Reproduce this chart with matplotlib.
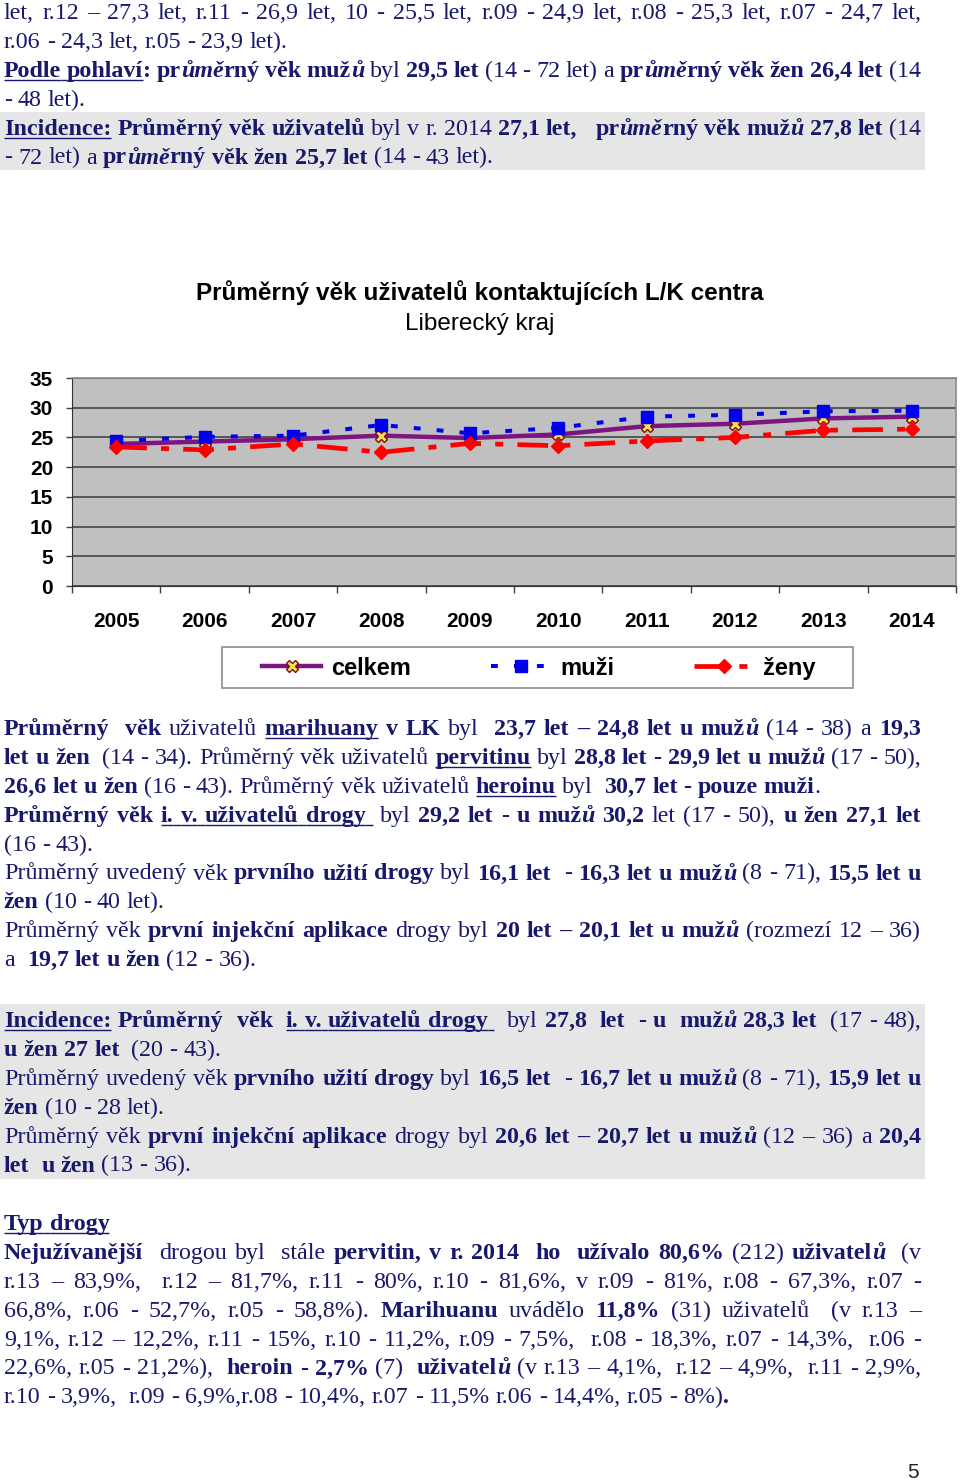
import re
import matplotlib
matplotlib.use("Agg")
import matplotlib.pyplot as plt
from matplotlib.patches import Rectangle
from matplotlib.font_manager import FontProperties

# data
years = ["2005", "2006", "2007", "2008", "2009", "2010", "2011", "2012", "2013", "2014"]
celkem = [23.9, 24.3, 24.7, 25.3, 24.9, 25.5, 26.9, 27.3, 28.2, 28.5]
muzi = [24.4, 25.1, 25.3, 27.1, 25.7, 26.6, 28.5, 28.8, 29.4, 29.5]
zeny = [23.4, 22.9, 23.9, 22.5, 24.0, 23.6, 24.4, 25.0, 26.2, 26.4]
nazvy = ["celkem", "muži", "ženy"]
y_ticks = [0, 5, 10, 15, 20, 25, 30, 35]

nadpis = "Průměrný věk uživatelů kontaktujících L/K centra"
podnadpis = "Liberecký kraj"

# page text: [b] bold, [i] italic, [u] underline; second item = justified line
blok1 = [
    ("let, r.12 – 27,3 let, r.11 - 26,9 let, 10 - 25,5 let, r.09 - 24,9 let, r.08 - 25,3 let, r.07 - 24,7 let,", True),
    ("r.06 - 24,3 let, r.05 - 23,9 let).", False),
    ("[b][u]Podle pohlaví[/u]: pr[i]ůmě[/i]rný věk muž[i]ů[/i][/b] byl [b]29,5 let[/b] (14 - 72 let) a [b]pr[i]ůmě[/i]rný věk žen 26,4 let[/b] (14", True),
    ("- 48 let).", False),
    ("[b][u]Incidence:[/u] Průměrný věk uživatelů[/b] byl v r. 2014 [b]27,1 let,[/b]   [b]pr[i]ůmě[/i]rný věk muž[i]ů[/i] 27,8 let[/b] (14", True),
    ("- 72 let) a [b]pr[i]ůmě[/i]rný věk žen 25,7 let[/b] (14 - 43 let).", False),
]
blok2 = [
    ("[b]Průměrný  věk[/b] uživatelů [b][u]marihuany[/u] v LK[/b] byl  [b]23,7 let – 24,8 let u muž[i]ů[/i][/b] (14 - 38) a [b]19,3[/b]", True),
    ("[b]let u žen[/b]  (14 - 34). Průměrný věk uživatelů [b][u]pervitinu[/u][/b] byl [b]28,8 let - 29,9 let u muž[i]ů[/i][/b] (17 - 50),", True),
    ("[b]26,6 let u žen[/b] (16 - 43). Průměrný věk uživatelů [b][u]heroinu[/u][/b] byl  [b]30,7 let - pouze muži[/b].", False),
    ("[b]Průměrný věk [u]i. v. uživatelů drogy [/u][/b] byl [b]29,2 let - u muž[i]ů[/i] 30,2[/b] let (17 - 50), [b]u žen 27,1 let[/b]", True),
    ("(16 - 43).", False),
    ("Průměrný uvedený věk [b]prvního užití drogy[/b] byl [b]16,1 let[/b]  - [b]16,3 let u muž[i]ů[/i][/b] (8 - 71), [b]15,5 let u[/b]", True),
    ("[b]žen[/b] (10 - 40 let).", False),
    ("Průměrný věk [b]první injekční aplikace[/b] drogy byl [b]20 let – 20,1 let u muž[i]ů[/i][/b] (rozmezí 12 – 36)", True),
    ("a  [b]19,7 let u žen[/b] (12 - 36).", False),
]
blok3 = [
    ("[b][u]Incidence:[/u] Průměrný  věk  [u]i. v. uživatelů drogy [/u][/b]  byl [b]27,8  let  - u  muž[i]ů[/i] 28,3 let[/b]  (17 - 48),", True),
    ("[b]u žen 27 let[/b]  (20 - 43).", False),
    ("Průměrný uvedený věk [b]prvního užití drogy[/b] byl [b]16,5 let[/b]  - [b]16,7 let u muž[i]ů[/i][/b] (8 - 71), [b]15,9 let u[/b]", True),
    ("[b]žen[/b] (10 - 28 let).", False),
    ("Průměrný věk [b]první injekční aplikace[/b] drogy byl [b]20,6 let – 20,7 let u muž[i]ů[/i][/b] (12 – 36) a [b]20,4[/b]", True),
    ("[b]let  u žen[/b] (13 - 36).", False),
]
blok4 = [
    ("[b][u]Typ drogy[/u][/b]", False),
    ("[b]Nejužívanější[/b]  drogou byl  stále [b]pervitin, v r. 2014  ho  užívalo 80,6%[/b] (212) [b]uživatel[i]ů[/i][/b]  (v", True),
    ("r.13 – 83,9%,  r.12 – 81,7%, r.11 - 80%, r.10 - 81,6%, v r.09 - 81%, r.08 - 67,3%, r.07 -", True),
    ("66,8%, r.06 - 52,7%, r.05 - 58,8%). [b]Marihuanu[/b] uvádělo [b]11,8%[/b] (31) uživatelů  (v r.13 –", True),
    ("9,1%, r.12 – 12,2%, r.11 - 15%, r.10 - 11,2%, r.09 - 7,5%,  r.08 - 18,3%, r.07 - 14,3%,  r.06 -", True),
    ("22,6%, r.05 - 21,2%),  [b]heroin - 2,7%[/b] (7)  [b]uživatel[i]ů[/i][/b] (v r.13 – 4,1%,  r.12 – 4,9%,  r.11 - 2,9%,", True),
    ("r.10 - 3,9%,  r.09 - 6,9%,r.08 - 10,4%, r.07 - 11,5% r.06 - 14,4%, r.05 - 8%)[b].[/b]", False),
]

W, H = 960, 1481
LEFT, RIGHT = 4, 921
PITCH = 28.9
TEXT_COLOR = "#18186c"
FS = 17.3

fig = plt.figure(figsize=(9.6, 14.81), dpi=100)
page = fig.add_axes([0, 0, 1, 1])
page.set_xlim(0, W)
page.set_ylim(H, 0)
page.axis("off")
renderer = fig.canvas.get_renderer()

# grey shading behind incidence paragraphs
page.add_patch(Rectangle((0, 112), 925, 58, facecolor="#e6e6e6", edgecolor="none", zorder=0))
page.add_patch(Rectangle((0, 1004), 925, 175, facecolor="#e6e6e6", edgecolor="none", zorder=0))

fonts = {}
def font(b, i):
    if (b, i) not in fonts:
        fonts[(b, i)] = FontProperties(family="Liberation Serif", size=FS,
                                       weight="bold" if b else "normal",
                                       style="italic" if i else "normal")
    return fonts[(b, i)]

def advance(s, b, i):
    fp = font(b, i)
    w1 = renderer.get_text_width_height_descent("|" + s + "|", fp, ismath=False)[0]
    w0 = renderer.get_text_width_height_descent("||", fp, ismath=False)[0]
    return w1 - w0

def parse(line):
    st = {"b": False, "i": False, "u": False}
    out = []
    for tok in re.split(r"(\[/?[biu]\])", line):
        m = re.fullmatch(r"\[(/?)([biu])\]", tok)
        if m:
            st[m.group(2)] = m.group(1) == ""
        elif tok:
            for part in re.split(r"( )", tok):
                if part:
                    out.append((part, st["b"], st["i"], st["u"]))
    return out

def draw_line(y, line, justify):
    pieces = parse(line)
    widths = [advance(p, b, i) for p, b, i, u in pieces]
    nsp = sum(1 for p in pieces if p[0] == " ")
    extra = 0
    if justify and nsp:
        extra = (RIGHT - LEFT - sum(widths)) / nsp
    x = LEFT
    for (txt, b, i, u), w in zip(pieces, widths):
        if txt == " ":
            w += extra
        else:
            page.text(x, y, txt, fontproperties=font(b, i), color=TEXT_COLOR,
                      ha="left", va="baseline")
        if u:
            page.plot([x, x + w], [y + 3, y + 3], color=TEXT_COLOR, lw=1.0,
                      solid_capstyle="butt")
        x += w

for start, blok in [(19, blok1), (735, blok2), (1027, blok3), (1230, blok4)]:
    for k, (line, just) in enumerate(blok):
        draw_line(start + k * PITCH, line, just)

page.text(913, 1478, "5", family="Liberation Sans", size=15, color="#222222",
          ha="center", va="baseline")

# chart
sans_b = FontProperties(family="Liberation Sans", weight="bold", size=15)
fig.text(480 / W, 1 - 293 / H, nadpis, ha="center", va="center",
         family="Liberation Sans", weight="bold", size=17.5)
fig.text(480 / W, 1 - 324 / H, podnadpis, ha="center", va="center",
         family="Liberation Sans", weight="medium", size=17.5)

ax = fig.add_axes([72 / W, 1 - 586 / H, (956 - 72) / W, (586 - 378) / H])
x = list(range(len(years)))
l1, = ax.plot(x, celkem, color="#7d1580", lw=3.2, marker="X", ms=9,
              mfc="#f5e050", mec="#7a1010", mew=1.0, label=nazvy[0])
l2, = ax.plot(x, muzi, color="#0000ee", lw=2.9, ls=(0, (1.7, 4)), marker="s",
              ms=8.5, label=nazvy[1])
l3, = ax.plot(x, zeny, color="#ff0000", lw=3.4, ls=(0, (6.5, 3, 1.7, 3)), marker="D",
              ms=7.5, label=nazvy[2])
ax.set_xlim(-0.5, len(years) - 0.5)
ax.set_ylim(0, 35)
ax.set_facecolor("#c0c0c0")
ax.set_yticks(y_ticks)
ax.yaxis.grid(True, color="#454545", lw=1.2)
ax.set_axisbelow(True)
ax.set_xticks(x)
ax.set_xticklabels(years)
ax.set_xticks([i - 0.5 for i in range(len(years) + 1)], minor=True)
ax.tick_params(axis="x", which="major", length=0, pad=19)
ax.tick_params(axis="x", which="minor", length=5, width=1, color="#404040")
ax.tick_params(axis="y", length=4.5, width=1, pad=9, color="#404040")
for lab in ax.get_xticklabels() + ax.get_yticklabels():
    lab.set_fontproperties(sans_b)
for s in ["left", "bottom"]:
    ax.spines[s].set_color("#303030")
for s in ["top", "right"]:
    ax.spines[s].set_color("#8a8a8a")
    ax.spines[s].set_linewidth(1.2)

page.add_patch(Rectangle((222, 647), 631, 41, facecolor="white", edgecolor="#8c8c8c", lw=1.2))
fig.legend([l1, l2, l3], nazvy, loc="center left", bbox_to_anchor=(262 / W, 1 - 668 / H),
           ncol=3, frameon=False, handlelength=2.5, handletextpad=0.42,
           columnspacing=3.4, borderpad=0, borderaxespad=0,
           prop=FontProperties(family="Liberation Sans", weight="bold", size=17))

fig.savefig("out.png", dpi=100)
